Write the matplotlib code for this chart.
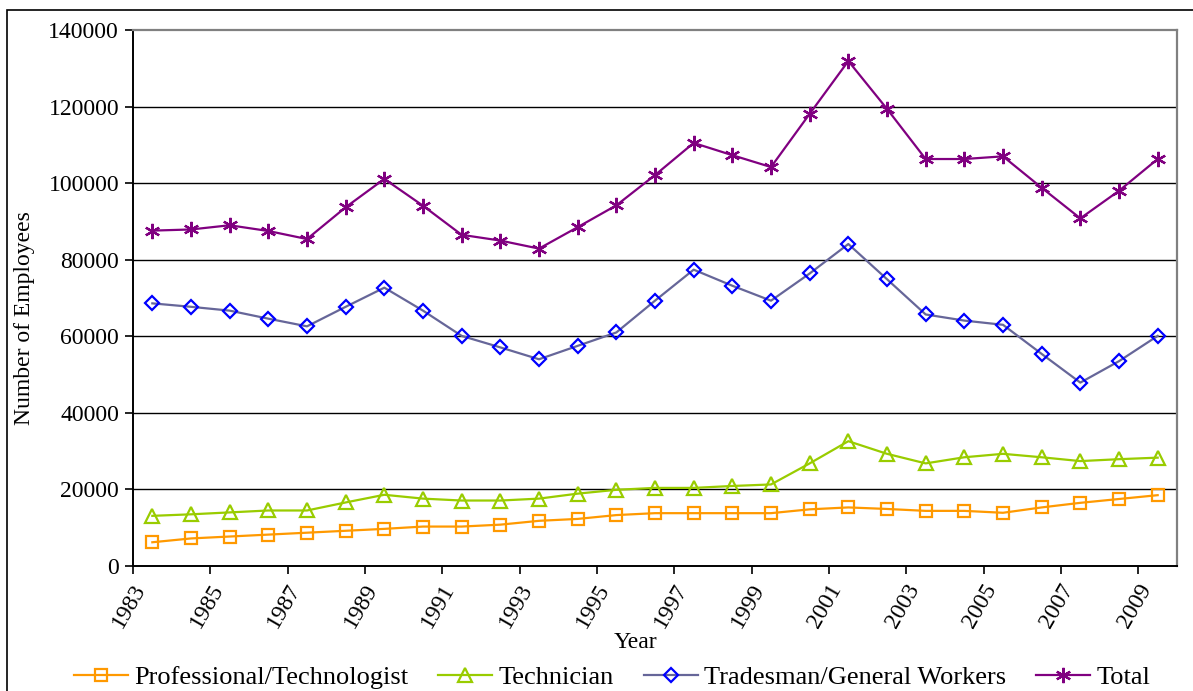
import matplotlib
matplotlib.use("Agg")
import matplotlib.pyplot as plt
from matplotlib.patches import Rectangle

years = list(range(1983, 2010))
professional = [6200, 7200, 7700, 8200, 8700, 9200, 9700, 10300, 10300, 10800,
                11800, 12300, 13300, 13800, 13800, 13800, 13800, 14800, 15300, 14900,
                14400, 14400, 13900, 15300, 16500, 17500, 18500]
technician = [13100, 13500, 14000, 14500, 14500, 16600, 18600, 17600, 17100, 17100,
              17600, 18900, 19900, 20400, 20400, 20900, 21300, 26800, 32600, 29300,
              26800, 28400, 29300, 28400, 27400, 27900, 28300]
tradesman = [68600, 67700, 66700, 64600, 62600, 67700, 72700, 66700, 60100, 57100,
             54000, 57500, 61000, 69300, 77400, 73200, 69300, 76400, 84100, 74900,
             65700, 64100, 63000, 55400, 47900, 53500, 60100]
total = [87600, 87900, 89000, 87500, 85400, 93700, 101100, 94100, 86500, 85000,
         82900, 88500, 94200, 102100, 110500, 107300, 104200, 118100, 131900, 119400,
         106300, 106300, 107000, 98800, 90800, 98000, 106300]

series_names = ["Professional/Technologist", "Technician",
                "Tradesman/General Workers", "Total"]
y_ticks = list(range(0, 140001, 20000))

plt.rcParams["font.family"] = ["Liberation Serif", "DejaVu Serif"]

fig = plt.figure(figsize=(11.93, 6.91), dpi=100)
ax = fig.add_axes([133 / 1193, 1 - 566 / 691, (1177 - 133) / 1193, (566 - 30) / 691])

# outer chart frame
fig.patches.append(Rectangle((7 / 1193, -0.05), 1.1, 1 - 10 / 691 + 0.05,
                             transform=fig.transFigure, fill=False,
                             edgecolor="black", linewidth=1.2))

ax.plot(years, professional, color="#FF9900", lw=1.6, marker="s", ms=8,
        mfc="none", mec="#FF9900", mew=1.6, label=series_names[0], zorder=3)
ax.plot(years, technician, color="#99CC00", lw=1.6, marker="^", ms=10,
        mfc="none", mec="#99CC00", mew=1.6, label=series_names[1], zorder=3)
ax.plot(years, tradesman, color="#666699", lw=1.6, marker="D", ms=7.5,
        mfc="none", mec="#0000FF", mew=1.6, label=series_names[2], zorder=3)
ax.plot(years, total, color="#800080", lw=1.6, marker=(6, 2, 0), ms=11,
        mfc="none", mec="#800080", mew=1.6, label=series_names[3], zorder=3)

ax.set_xlim(1982.5, 2009.5)
ax.set_ylim(0, 140000)

# category boundaries carry the tick marks, labels sit on the category centres
ax.set_xticks([y - 0.5 for y in years[::2]])
ax.set_xticklabels([])
label_years = years[::2]
ax.set_xticks([y - 0.06 for y in label_years], minor=True)
ax.set_xticklabels([str(y) for y in label_years], minor=True, rotation=60,
                   ha="right", va="top", fontsize=17)
ax.tick_params(axis="x", which="major", direction="out", length=6, width=1.2,
               color="black")
ax.tick_params(axis="x", which="minor", length=0, pad=10)

ax.set_yticks(y_ticks)
ax.set_yticklabels([str(v) for v in y_ticks], fontsize=17)
ax.tick_params(axis="y", direction="out", length=6, width=1.2, pad=4)

for v in y_ticks[1:-1]:
    ax.axhline(v, color="black", lw=1.0, zorder=1)

for side in ("left", "bottom"):
    ax.spines[side].set_color("black")
    ax.spines[side].set_linewidth(1.4)
for side in ("top", "right"):
    ax.spines[side].set_color("#808080")
    ax.spines[side].set_linewidth(1.6)

fig.text(25 / 1193, 1 - 318 / 691, "Number of Employees", rotation=90,
         ha="center", va="center", fontsize=17)
fig.text(635 / 1193, 1 - 642 / 691, "Year", ha="center", va="center", fontsize=17)

fig.legend(loc="center", bbox_to_anchor=(612 / 1193, 1 - 677 / 691), ncol=4,
           frameon=False, fontsize=19, handlelength=2.05, handletextpad=0.23,
           columnspacing=1.14, borderaxespad=0)

fig.savefig("out.png", dpi=100)
